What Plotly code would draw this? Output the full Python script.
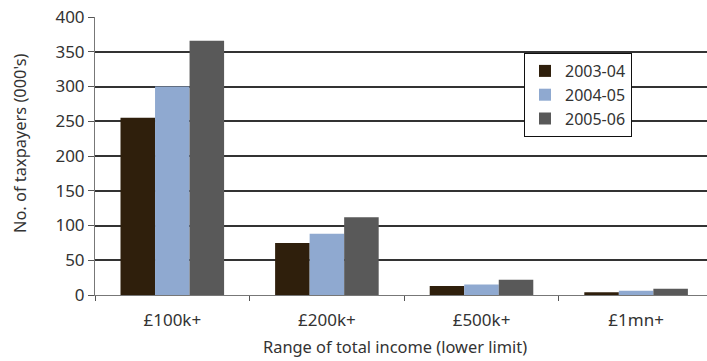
import plotly.graph_objects as go

# Income bands and taxpayer counts (thousands) by tax year
categories = ["£100k+", "£200k+", "£500k+", "£1mn+"]
years = ["2003-04", "2004-05", "2005-06"]
values_2003 = [255, 75, 13, 4]
values_2004 = [300, 88, 15, 6]
values_2005 = [366, 112, 22, 9]
y_ticks = [0, 50, 100, 150, 200, 250, 300, 350, 400]

colors = ["#2f1f0c", "#8fa9d0", "#595959"]
series = [values_2003, values_2004, values_2005]

FONT = "Noto Sans"
TEXT = "#333333"

fig = go.Figure()
for name, vals, col in zip(years, series, colors):
    fig.add_trace(go.Bar(x=categories, y=vals, name=name,
                         marker=dict(color=col, line=dict(width=0))))

W, H = 707, 361
L, T, B = 95, 17, 66
cat_px = 154.6
x_end = -0.5 + (W - L) / cat_px
plot_h = 295 - T

fig.update_layout(
    width=W, height=H,
    margin=dict(l=L, r=0, t=T, b=B),
    paper_bgcolor="white", plot_bgcolor="white",
    barmode="group", bargap=0.33, bargroupgap=0,
    font=dict(family=FONT, size=16, color=TEXT),
    showlegend=True,
    legend=dict(x=(524 - L) / (W - L), y=(295 - 53) / plot_h,
                xanchor="left", yanchor="top",
                bgcolor="white", bordercolor="#111111", borderwidth=1,
                font=dict(family=FONT, size=16, color=TEXT),
                itemwidth=30),
    xaxis=dict(range=[-0.5, x_end], tickson="boundaries",
               ticks="outside", ticklen=5, tickcolor="#555555",
               showline=True, linecolor="#777777", linewidth=1,
               showgrid=False, zeroline=False, ticklabelstandoff=10,
               tickfont=dict(family=FONT, size=17, color=TEXT)),
    yaxis=dict(range=[0, 400], tickvals=y_ticks,
               ticks="outside", ticklen=6, tickcolor="#555555",
               showline=True, linecolor="#777777", linewidth=1,
               showgrid=True, gridcolor="#333333", gridwidth=1.5,
               zeroline=False,
               tickfont=dict(family=FONT, size=17, color=TEXT)),
    annotations=[
        dict(text="No. of taxpayers (000's)", xref="paper", yref="paper",
             x=(19 - L) / (W - L), y=(295 - 144) / plot_h,
             xanchor="center", yanchor="middle", textangle=-90,
             showarrow=False, font=dict(family=FONT, size=16.4, color=TEXT)),
        dict(text="Range of total income (lower limit)", xref="paper", yref="paper",
             x=(395 - L) / (W - L), y=-(346 - 295) / plot_h,
             xanchor="center", yanchor="middle",
             showarrow=False, font=dict(family=FONT, size=16.4, color=TEXT)),
    ],
)

fig.write_html("out.html")
